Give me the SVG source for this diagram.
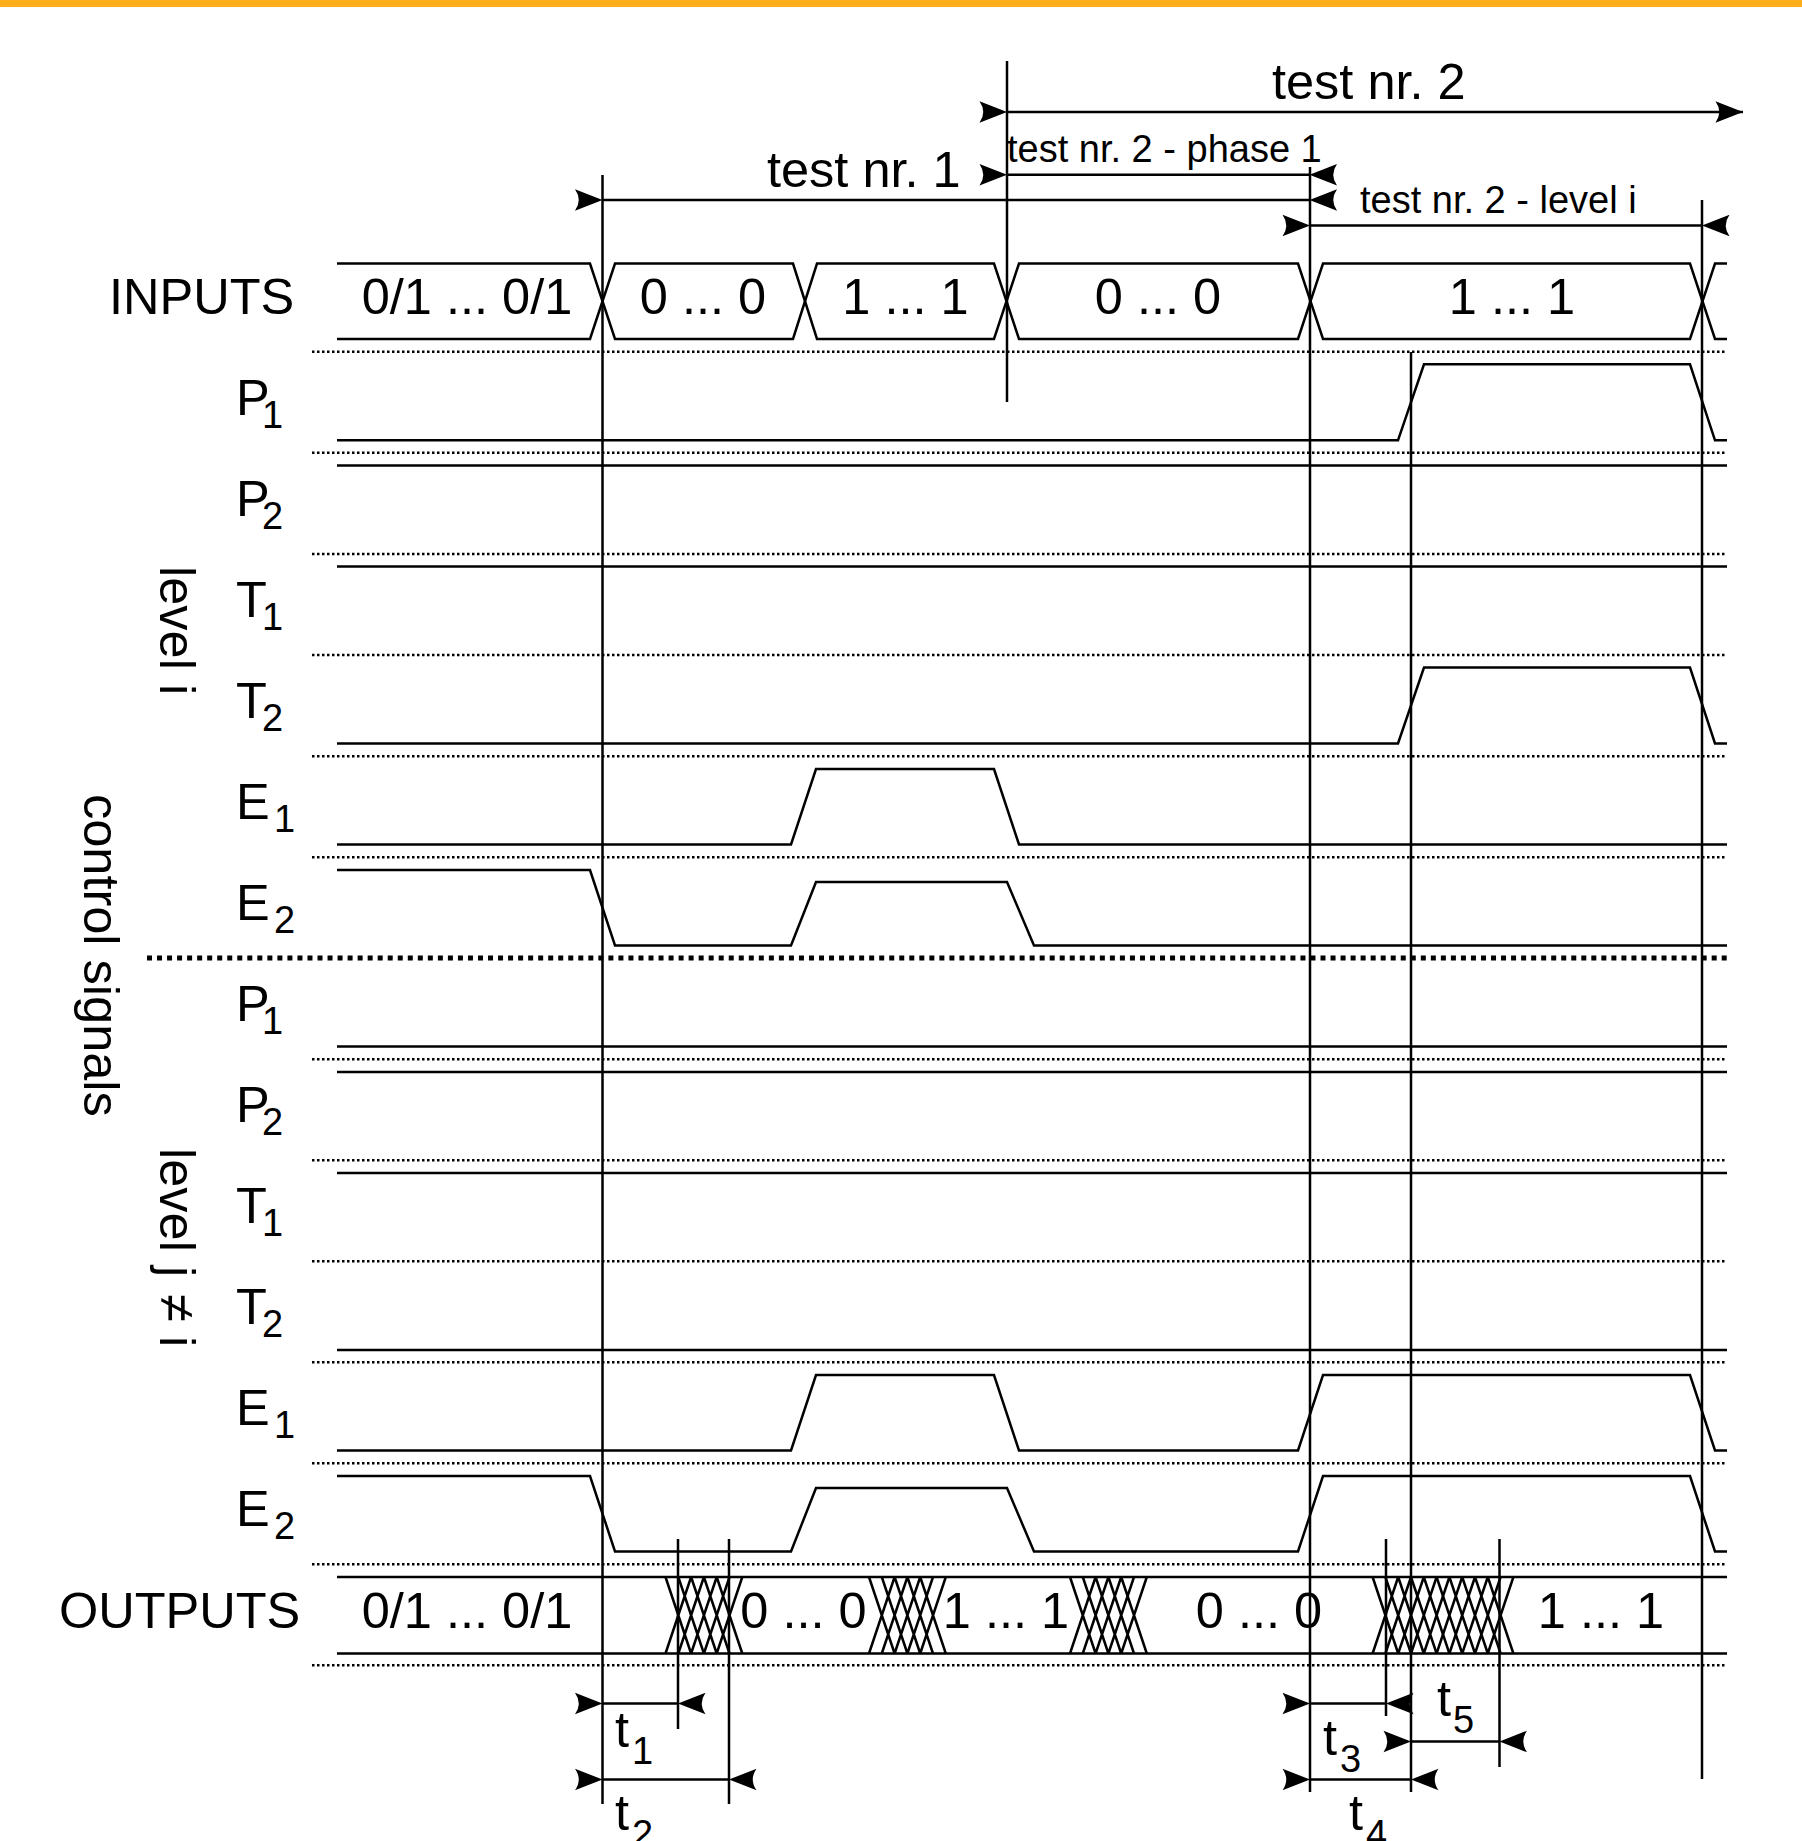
<svg xmlns="http://www.w3.org/2000/svg" xmlns:xlink="http://www.w3.org/1999/xlink" width="1802" height="1841" viewBox="0 0 1802 1841">
<style>
text{font-family:"Liberation Sans",Arial,sans-serif;fill:#000;font-size:50.5px}
.s{font-size:38px}
.m{text-anchor:middle}
.w{fill:none;stroke:#000;stroke-width:2.5;stroke-linejoin:miter}
.v{fill:none;stroke:#000;stroke-width:2.5}
.d{fill:none;stroke:#000;stroke-width:2.5;stroke-dasharray:2.5 2.5}
.dd{fill:none;stroke:#000;stroke-width:5;stroke-dasharray:5 5.03}
.h{fill:none;stroke:#000;stroke-width:2.5}
</style>
<defs>
<marker id="af" markerUnits="userSpaceOnUse" markerWidth="30" markerHeight="26" refX="28.500" refY="13" orient="auto"><path d="M28.500,13 L1,2.200 Q8.500,13 1,23.800 Z" fill="#000"/></marker>
<marker id="ab" markerUnits="userSpaceOnUse" markerWidth="30" markerHeight="26" refX="1.500" refY="13" orient="auto"><path d="M1.500,13 L29,2.200 Q21.500,13 29,23.800 Z" fill="#000"/></marker>
<path id="x5" class="h" d="M0,0L25.6,76.5M25.6,0L0,76.5M12.8,0L38.4,76.5M38.4,0L12.8,76.5M25.6,0L51.2,76.5M51.2,0L25.6,76.5M38.4,0L64,76.5M64,0L38.4,76.5M51.2,0L76.8,76.5M76.8,0L51.2,76.5"/>
</defs>
<rect id="band" x="0" y="0" width="1802" height="7" fill="#FDAF1B"/>

<g id="separators">
<path class="d" d="M312,351.700H1726M312,452.700H1726M312,554H1726M312,655H1726M312,756.300H1726M312,857.300H1726M312,1059.300H1726M312,1160.300H1726M312,1261.300H1726M312,1362.300H1726M312,1463.300H1726M312,1564.300H1726M312,1665.300H1726"/>
<path class="dd" d="M147,958H1727"/>
</g>

<g id="inputs">
<path class="w" d="M337,263.500H590L615,339H793L817,263.500H994L1019,339H1298L1323,263.500H1690L1715,339H1727"/>
<path class="w" d="M337,339H590L615,263.500H793L817,339H994L1019,263.500H1298L1323,339H1690L1715,263.500H1727"/>
<text x="109" y="314">INPUTS</text>
<text class="m" x="467" y="314">0/1 ... 0/1</text>
<text class="m" x="703" y="314">0 ... 0</text>
<text class="m" x="905.500" y="314">1 ... 1</text>
<text class="m" x="1158" y="314">0 ... 0</text>
<text class="m" x="1512" y="314">1 ... 1</text>
</g>

<g id="level-i-p1"><path class="w" d="M337,440.300H1398L1424,364.300H1690L1715,440.300H1727"/><text x="236" y="415">P</text><text class="s" x="262" y="428">1</text></g>
<g id="level-i-p2"><path class="w" d="M337,465.500H1727"/><text x="236" y="516">P</text><text class="s" x="262" y="529">2</text></g>
<g id="level-i-t1"><path class="w" d="M337,566.500H1727"/><text x="236" y="617">T</text><text class="s" x="262" y="630">1</text></g>
<g id="level-i-t2"><path class="w" d="M337,743.500H1398L1424,667.500H1690L1715,743.500H1727"/><text x="236" y="718">T</text><text class="s" x="262" y="731">2</text></g>
<g id="level-i-e1"><path class="w" d="M337,844.500H791L816,769H994L1019,844.500H1727"/><text x="236" y="819">E</text><text class="s" x="274" y="832">1</text></g>
<g id="level-i-e2"><path class="w" d="M337,870H590L615,945.500H791L816,882H1007L1034,945.500H1727"/><text x="236" y="920">E</text><text class="s" x="274" y="933">2</text></g>

<g id="level-j-p1"><path class="w" d="M337,1046.500H1727"/><text x="236" y="1021">P</text><text class="s" x="262" y="1034">1</text></g>
<g id="level-j-p2"><path class="w" d="M337,1072H1727"/><text x="236" y="1122">P</text><text class="s" x="262" y="1135">2</text></g>
<g id="level-j-t1"><path class="w" d="M337,1173H1727"/><text x="236" y="1223">T</text><text class="s" x="262" y="1236">1</text></g>
<g id="level-j-t2"><path class="w" d="M337,1350H1727"/><text x="236" y="1324">T</text><text class="s" x="262" y="1337">2</text></g>
<g id="level-j-e1"><path class="w" d="M337,1450.500H791L816,1375H994L1019,1450.500H1298L1323,1375H1690L1715,1450.500H1727"/><text x="236" y="1425">E</text><text class="s" x="274" y="1438">1</text></g>
<g id="level-j-e2"><path class="w" d="M337,1476H590L615,1551.500H791L816,1488H1007L1034,1551.500H1298L1323,1476H1690L1715,1551.500H1727"/><text x="236" y="1526">E</text><text class="s" x="274" y="1539">2</text></g>

<g id="outputs">
<path class="w" d="M337,1577H1727M337,1653.500H1727"/>
<use href="#x5" xlink:href="#x5" x="665.500" y="1577"/>
<use href="#x5" xlink:href="#x5" x="869" y="1577"/>
<use href="#x5" xlink:href="#x5" x="1070" y="1577"/>
<use href="#x5" xlink:href="#x5" x="1372.600" y="1577"/>
<use href="#x5" xlink:href="#x5" x="1436.600" y="1577"/>
<text x="59" y="1628">OUTPUTS</text>
<text class="m" x="467" y="1628">0/1 ... 0/1</text>
<text class="m" x="803.500" y="1628">0 ... 0</text>
<text class="m" x="1006" y="1628">1 ... 1</text>
<text class="m" x="1259" y="1628">0 ... 0</text>
<text class="m" x="1601" y="1628">1 ... 1</text>
</g>

<g id="side-labels">
<text transform="translate(83.500,794) rotate(90)">control signals</text>
<text transform="translate(159.500,566) rotate(90)">level i</text>
<text transform="translate(159.500,1148) rotate(90)">level j <tspan dx="3">≠</tspan> i</text>
</g>

<g id="connectors">
<path class="v" d="M602.500,175V1804M1007,61V402M1310,167V1792M1411,352V1792M1702,200V1779M678,1539V1729M729,1539V1804M1386,1539V1716M1499.500,1539V1767"/>
<line class="v" x1="1007" y1="112" x2="1743" y2="112" marker-start="url(#af)" marker-end="url(#af)"/>
<line class="v" x1="1007" y1="174.700" x2="1309.500" y2="174.700" marker-start="url(#af)" marker-end="url(#ab)"/>
<line class="v" x1="602.500" y1="200" x2="1309.500" y2="200" marker-start="url(#af)" marker-end="url(#ab)"/>
<line class="v" x1="1310" y1="225.500" x2="1702" y2="225.500" marker-start="url(#af)" marker-end="url(#ab)"/>
<line class="v" x1="602.500" y1="1703.500" x2="678" y2="1703.500" marker-start="url(#af)" marker-end="url(#ab)"/>
<line class="v" x1="602.500" y1="1779.500" x2="729" y2="1779.500" marker-start="url(#af)" marker-end="url(#ab)"/>
<line class="v" x1="1310" y1="1703.500" x2="1386" y2="1703.500" marker-start="url(#af)" marker-end="url(#ab)"/>
<line class="v" x1="1310" y1="1779.500" x2="1411" y2="1779.500" marker-start="url(#af)" marker-end="url(#ab)"/>
<line class="v" x1="1411" y1="1741.500" x2="1499.500" y2="1741.500" marker-start="url(#af)" marker-end="url(#ab)"/>
</g>

<g id="arrow-labels">
<text x="767" y="187">test nr. 1</text>
<text x="1272" y="99">test nr. 2</text>
<text class="s" x="1007" y="162">test nr. 2 - phase 1</text>
<text class="s" x="1360" y="213">test nr. 2 - level i</text>
<text x="615" y="1747">t</text><text class="s" x="632" y="1764">1</text>
<text x="615" y="1830">t</text><text class="s" x="632" y="1847">2</text>
<text x="1323" y="1755">t</text><text class="s" x="1340" y="1772">3</text>
<text x="1349" y="1830">t</text><text class="s" x="1366" y="1847">4</text>
<text x="1437" y="1716">t</text><text class="s" x="1453" y="1733">5</text>
</g>
</svg>
